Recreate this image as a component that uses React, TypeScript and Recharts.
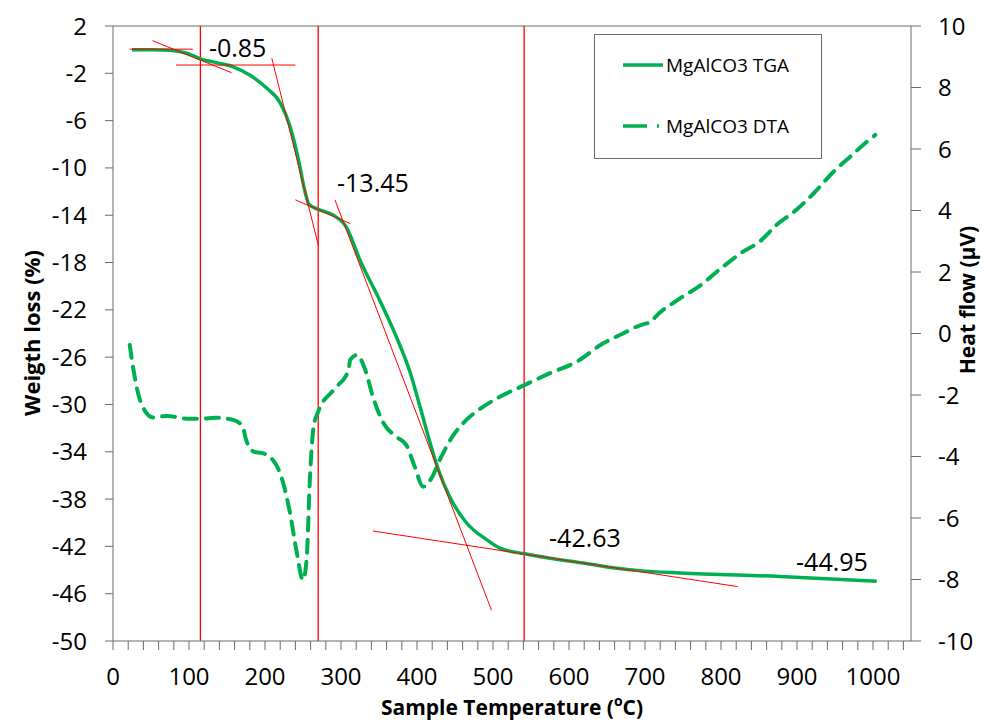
import React from 'react';
import { LineChart, Line, XAxis, YAxis, ReferenceLine, ReferenceDot, Legend } from 'recharts';

// TGA: weight loss (%) vs temperature
const tgaTemp = [25, 50, 75, 97, 117, 136, 158, 180, 202, 220, 233, 244, 253, 258, 270, 290, 307, 325, 351, 373, 391, 404, 417, 428, 443, 465, 492, 509, 542, 575, 619, 663, 693, 746, 878, 1005];
const tgaWeight = [0.0, 0.0, -0.05, -0.3, -0.82, -1.1, -1.45, -2.15, -3.25, -4.5, -6.5, -9.3, -12.1, -13.1, -13.5, -14.0, -15.0, -17.8, -21.2, -24.3, -27.3, -30.2, -33.2, -35.5, -37.8, -40.0, -41.45, -42.15, -42.63, -43.0, -43.4, -43.85, -44.05, -44.25, -44.55, -44.95];

// DTA: heat flow (µV) vs temperature
const dtaTemp = [22, 27, 33, 40, 53, 71, 97, 115, 136, 158, 171, 174, 185, 198, 215, 224, 233, 242, 250, 255, 259, 264, 270, 290, 310, 312, 321, 332, 342, 356, 373, 386, 397, 408, 419, 430, 448, 465, 483, 509, 542, 575, 610, 645, 667, 702, 707, 713, 746, 772, 799, 829, 851, 873, 899, 922, 948, 970, 992, 1003];
const dtaHeat = [-0.37, -1.19, -1.94, -2.43, -2.73, -2.68, -2.77, -2.77, -2.74, -2.81, -3.03, -3.36, -3.84, -3.9, -4.28, -4.87, -5.85, -7.15, -8.02, -7.26, -4.76, -3.03, -2.54, -1.84, -1.19, -0.86, -0.7, -1.19, -2.06, -2.92, -3.36, -3.63, -4.33, -4.98, -4.71, -4.11, -3.3, -2.81, -2.45, -2.06, -1.67, -1.29, -0.92, -0.32, -0.05, 0.33, 0.35, 0.52, 1.14, 1.55, 2.1, 2.66, 2.99, 3.53, 4.02, 4.56, 5.26, 5.75, 6.24, 6.46];

const xTicks = Array.from({ length: 53 }, (_, i) => i * 20);
const leftTicks = [2, -2, -6, -10, -14, -18, -22, -26, -30, -34, -38, -42, -46, -50];
const rightTicks = [10, 8, 6, 4, 2, 0, -2, -4, -6, -8, -10];

// step boundaries (vertical red lines)
const stepTemps = [115, 270, 541];

// tangent construction lines, [temp, weight] end points
const tangents: [number, number][][] = [
  [[22, 0.04], [105, 0.04]],
  [[52, 0.76], [156, -1.95]],
  [[83, -1.3], [240, -1.3]],
  [[209, -0.73], [270, -16.5]],
  [[240, -12.7], [312, -14.7]],
  [[292, -12.7], [498, -47.4]],
  [[342, -40.7], [822, -45.4]],
];

const stepLabels = [
  { t: 164, w: 0.1, text: '-0.85' },
  { t: 342, w: -11.3, text: '-13.45' },
  { t: 621, w: -41.3, text: '-42.63' },
  { t: 946, w: -43.3, text: '-44.95' },
];

const tgaData = tgaTemp.map((t, i) => ({ t, w: tgaWeight[i] }));
const dtaData = dtaTemp.map((t, i) => ({ t, h: dtaHeat[i] }));

const GREEN = '#00B050';
const RED = '#FF0000';
const AXIS = '#6b6b6b';

const renderLegend = () => (
  <div style={{ width: 226, height: 123, border: `1px solid ${AXIS}`, background: '#fff', fontSize: 19, color: '#000' }}>
    <div style={{ position: 'absolute', left: 29, top: 18, display: 'flex', alignItems: 'center' }}>
      <svg width={41} height={10}><line x1={0} y1={5} x2={40} y2={5} stroke={GREEN} strokeWidth={3.5} /></svg>
      <span style={{ marginLeft: 2 }}>MgAlCO3 TGA</span>
    </div>
    <div style={{ position: 'absolute', left: 29, top: 79, display: 'flex', alignItems: 'center' }}>
      <svg width={41} height={10}><line x1={0} y1={5} x2={40} y2={5} stroke={GREEN} strokeWidth={3.5} strokeDasharray="24 10 2 10" /></svg>
      <span style={{ marginLeft: 2 }}>MgAlCO3 DTA</span>
    </div>
  </div>
);

export default function App() {
  return (
    <div style={{ position: 'absolute', left: 0, top: 0, fontFamily: '"Open Sans", sans-serif', background: '#fff' }}>
      <LineChart width={983} height={727} margin={{ top: 26, right: 0, bottom: 0, left: 0 }}>
        <XAxis
          dataKey="t"
          type="number"
          domain={[0, 1050]}
          ticks={xTicks}
          interval={0}
          allowDataOverflow
          tickFormatter={(v: number) => (v % 100 === 0 ? String(v) : '')}
          height={86}
          tickSize={9}
          tickMargin={18}
          stroke={AXIS}
          tick={{ fill: '#000', fontSize: 24 }}
          label={{
            content: () => (
              <text x={512} y={715} textAnchor="middle" fontSize={21} fontWeight="bold" fill="#000">
                Sample Temperature (<tspan fontSize={14} dy={-9}>o</tspan><tspan dy={9}>C)</tspan>
              </text>
            ),
          }}
        />
        <YAxis
          yAxisId="left"
          domain={[-50, 2]}
          ticks={leftTicks}
          interval={0}
          width={113}
          tickSize={8}
          tickMargin={18}
          stroke={AXIS}
          tick={{ fill: '#000', fontSize: 24 }}
          label={{
            content: () => (
              <text x={31} y={333} transform="rotate(-90 31 333)" textAnchor="middle" dominantBaseline="central" fontSize={22} fontWeight="bold" fill="#000">
                Weigth loss (%)
              </text>
            ),
          }}
        />
        <YAxis
          yAxisId="right"
          orientation="right"
          domain={[-10, 10]}
          ticks={rightTicks}
          interval={0}
          width={72}
          tickSize={10}
          tickMargin={17}
          stroke={AXIS}
          tick={{ fill: '#000', fontSize: 24 }}
          label={{
            content: () => (
              <text x={967} y={300} transform="rotate(-90 967 300)" textAnchor="middle" dominantBaseline="central" fontSize={21} fontWeight="bold" fill="#000">
                Heat flow (µV)
              </text>
            ),
          }}
        />
        <ReferenceLine yAxisId="left" y={2} stroke={AXIS} strokeWidth={1} />
        {stepTemps.map((t) => (
          <ReferenceLine key={t} yAxisId="left" x={t} stroke={RED} strokeWidth={1.3} />
        ))}
        <Line
          data={dtaData}
          yAxisId="right"
          dataKey="h"
          name="MgAlCO3 DTA"
          type="monotone"
          stroke={GREEN}
          strokeWidth={4}
          strokeDasharray="13 9"
          strokeLinecap="round"
          dot={false}
          isAnimationActive={false}
        />
        <Line
          data={tgaData}
          yAxisId="left"
          dataKey="w"
          name="MgAlCO3 TGA"
          type="monotone"
          stroke={GREEN}
          strokeWidth={3.5}
          dot={false}
          isAnimationActive={false}
        />
        {tangents.map((seg, i) => (
          <ReferenceLine
            key={i}
            yAxisId="left"
            segment={[{ x: seg[0][0], y: seg[0][1] }, { x: seg[1][0], y: seg[1][1] }]}
            stroke={RED}
            strokeWidth={1}
          />
        ))}
        {stepLabels.map((l) => (
          <ReferenceDot
            key={l.text}
            yAxisId="left"
            x={l.t}
            y={l.w}
            r={0}
            fill="none"
            stroke="none"
            label={{ value: l.text, position: 'center', fontSize: 25, fill: '#000' }}
          />
        ))}
        <Legend
          layout="horizontal"
          verticalAlign="middle"
          align="center"
          content={renderLegend}
          wrapperStyle={{ position: 'absolute', left: 594, top: 34, width: 228, height: 125 }}
        />
      </LineChart>
    </div>
  );
}
